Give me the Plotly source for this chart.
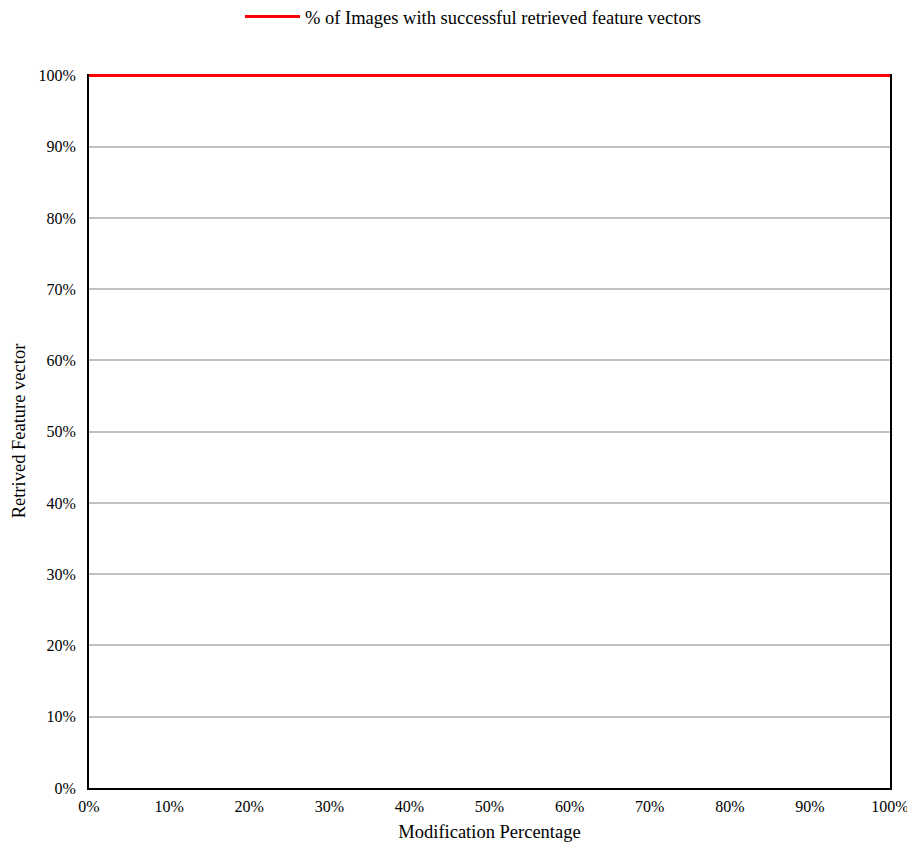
import plotly.graph_objects as go

modification_pct = [0, 0.1, 0.2, 0.3, 0.4, 0.5, 0.6, 0.7, 0.8, 0.9, 1.0]
retrieved_pct = [1.0, 1.0, 1.0, 1.0, 1.0, 1.0, 1.0, 1.0, 1.0, 1.0, 1.0]
series_name = "% of Images with successful retrieved feature vectors"
tick_vals = [i / 10 for i in range(11)]

font_family = "Liberation Serif, Times New Roman, serif"

fig = go.Figure()
fig.add_trace(go.Scatter(
    x=modification_pct, y=retrieved_pct, mode="lines", name=series_name,
    line=dict(color="#ff0000", width=3), cliponaxis=False,
))

fig.update_layout(
    width=907, height=843,
    margin=dict(l=81, r=25, t=66, b=63, autoexpand=False),
    paper_bgcolor="white", plot_bgcolor="white",
    font=dict(family=font_family, size=16, color="black"),
    showlegend=True,
    legend=dict(orientation="h", x=0.48, xanchor="center", y=1.08, yanchor="middle",
                font=dict(size=18.5), itemwidth=55, tracegroupgap=0),
    xaxis=dict(
        range=[0, 1], tickvals=tick_vals, tickformat=".0%",
        showgrid=False, showline=True, linecolor="black", linewidth=2, mirror=False,
        ticks="", zeroline=False, layer="below traces", automargin=False,
        ticklabelstandoff=3,
        title=dict(text="Modification Percentage", font=dict(size=18.5), standoff=11),
    ),
    yaxis=dict(
        range=[0, 1.002], tickvals=tick_vals, tickformat=".0%",
        showgrid=True, gridcolor="#c0c0c0", gridwidth=1.5,
        showline=True, linecolor="black", linewidth=2, mirror=True,
        ticks="", zeroline=False, layer="below traces", ticklabelstandoff=8,
        automargin=False,
        title=dict(text="Retrived Feature vector", font=dict(size=18.5), standoff=8),
    ),
)

fig.write_html("out.html")
